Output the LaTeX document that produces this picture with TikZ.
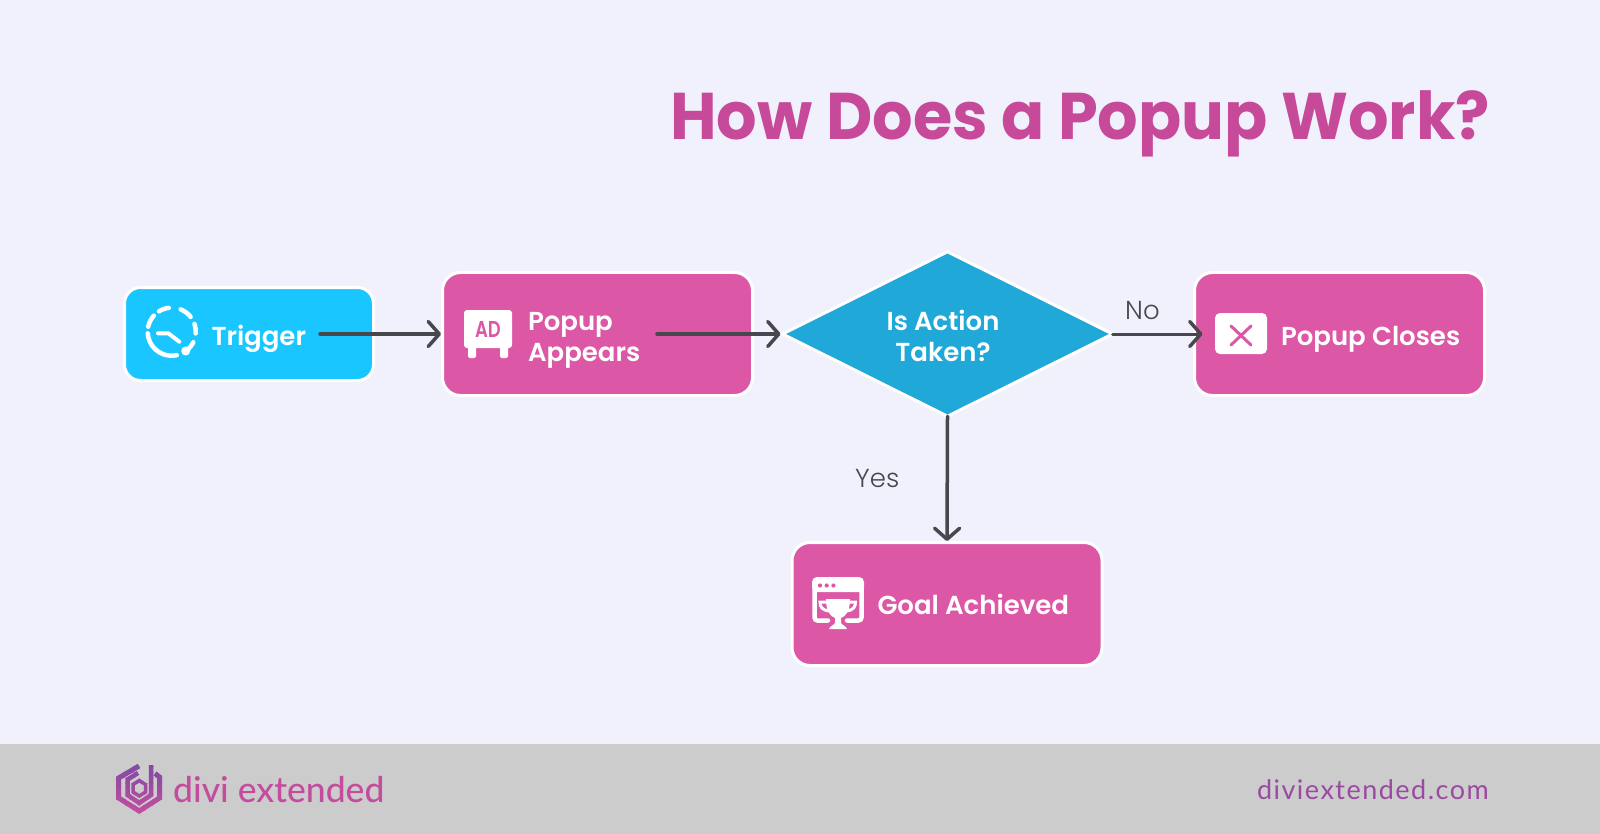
\documentclass[tikz,border=0pt]{standalone}
\usepackage{fontspec}
\setmainfont{Poppins}
\newfontfamily\semi{Poppins SemiBold}
\newfontfamily\lightf{Poppins Light}
\newfontfamily\titlef[FakeStretch=0.965]{Poppins Bold}
\newfontfamily\logof{Lato Medium}
\newfontfamily\urlf[LetterSpace=5.5]{Lato}
\usetikzlibrary{arrows.meta,shapes.geometric}
\definecolor{bgc}{HTML}{F1F1FD}
\definecolor{footc}{HTML}{CCCCCC}
\definecolor{pinkc}{HTML}{DC57A5}
\definecolor{trigc}{HTML}{1AC6FF}
\definecolor{diac}{HTML}{20A8D8}
\definecolor{titlec}{HTML}{C74A9A}
\definecolor{linec}{HTML}{47474D}
\definecolor{logoa}{HTML}{7F4BA6}
\definecolor{logob}{HTML}{C44C9E}
\definecolor{urlc}{HTML}{9A4AA2}
\tikzset{
  x=1pt,y=-1pt,
  flowbox/.style={draw=white,line width=3pt,rounded corners=16pt,inner sep=0pt,outer sep=0pt},
  pinkbox/.style={flowbox,fill=pinkc,rounded corners=18pt},
  lbl/.style={text=white,inner sep=0pt,outer sep=0pt,font=\semi\fontsize{26}{30}\selectfont},
  cond/.style={text=linec,inner sep=0pt,font=\lightf\fontsize{26}{28}\selectfont},
  conn/.style={draw=linec,line width=3.5pt,line cap=round,-{Straight Barb[length=11pt,width=25pt,line width=3.5pt,round]}},
  iconline/.style={draw=white,line width=4.5pt,line cap=round},
}
\newcommand{\arcpx}[2]{\draw[iconline] plot[domain=#1:#2,samples=16] ({171.7+24*cos(\x)},{331.7-24*sin(\x)});}
\begin{document}
\begin{tikzpicture}
\useasboundingbox (0,0) rectangle (1600,834);
\fill[bgc] (0,0) rectangle (1600,834);
\fill[footc] (0,744) rectangle (1600,834);
% title
\node[anchor=base east,inner sep=0pt,text=titlec,font=\titlef\fontsize{66}{70}\selectfont] (title) at (1490,140) {How Does a Popup Work?};
% boxes
\node[flowbox,fill=trigc,minimum width=249pt,minimum height=93pt] (trigger) at (249,334) {};
\node[pinkbox,minimum width=310pt,minimum height=123pt] (popup) at (597.5,334) {};
\node[diamond,draw=white,line width=3pt,fill=diac,inner sep=0pt,outer sep=0pt,minimum width=330pt,minimum height=164.5pt,aspect=2] (action) at (947.5,334) {};
\node[pinkbox,minimum width=290pt,minimum height=123pt] (closes) at (1339.5,334) {};
\node[pinkbox,minimum width=310pt,minimum height=123pt] (goal) at (947,604) {};
% connectors
\coordinate (trigout) at (320,334);
\coordinate (popout) at (657,334);
\draw[conn,shorten >=1.5pt] (trigout) -- (popup.west);
\draw[conn,shorten >=2pt] (popout) -- (action.west);
\draw[conn,line width=3pt,shorten <=0pt,shorten >=-8pt] (action.east) -- (closes.west);
\draw[conn,shorten <=0pt,shorten >=1.5pt] (action.south) -- (goal.north);
\node[cond,anchor=base west] (no) at (1125,319) {No};
\node[cond,anchor=base west] (yes) at (855,487) {Yes};
% labels
\node[lbl,anchor=base west] (ltrigger) at (211.5,345) {Trigger};
\node[lbl,anchor=base west] (lpop1) at (528,330.5) {Popup};
\node[lbl,anchor=base west] (lpop2) at (528,361) {Appears};
\node[lbl,anchor=base] (lact1) at (943,330) {Is Action};
\node[lbl,anchor=base] (lact2) at (943,361) {Taken?};
\node[lbl,anchor=base west] (lclose) at (1281,345) {Popup Closes};
\node[lbl,anchor=base west] (lgoal) at (877.5,614) {Goal Achieved};
% trigger icon
\arcpx{97}{122}
\arcpx{38}{68}
\arcpx{-4}{19}
\arcpx{-48}{-26}
\arcpx{-176}{-78}
\arcpx{138}{168}
\fill[white] (185.7,351) circle[radius=4.5];
\draw[iconline,line join=round,line width=4pt] (158,333.3) -- (168.3,333.3) -- (179.3,341.7);
% AD icon
\fill[white,rounded corners=3pt] (464,310) rectangle (512,348);
\fill[white,rounded corners=2pt] (468,344) rectangle (476,358);
\fill[white,rounded corners=2pt] (500,344) rectangle (508,358);
\node[inner sep=0pt,text=pinkc,font=\semi\fontsize{23}{23}\selectfont,xscale=0.78] (adtext) at (488,329.5) {AD};
% X icon
\fill[white,rounded corners=5pt] (1215,313) rectangle (1267,354);
\draw[draw=pinkc,line width=3pt,line cap=round] (1231,326) -- (1251,345) (1251,326) -- (1231,345);
% goal icon
\fill[white,rounded corners=5pt] (812,577) rectangle (864,592);
\draw[iconline,rounded corners=3pt] (828,620.5) -- (814.5,620.5) -- (814.5,585);
\draw[iconline,rounded corners=3pt] (847,620.5) -- (861.5,620.5) -- (861.5,585);
\fill[pinkc] (820,585.5) circle[radius=2.1] (826.7,585.5) circle[radius=2.1] (833.4,585.5) circle[radius=2.1];
\fill[white] (826,599) -- (850,599) .. controls (850,611) and (846,616) .. (841,618) -- (841,623) .. controls (842,625) and (846,626) .. (847,629) -- (829,629) .. controls (830,626) and (834,625) .. (835,623) -- (835,618) .. controls (830,616) and (826,611) .. (826,599) -- cycle;
\draw[draw=white,line width=3pt,line cap=round] (828,602) -- (820,602) .. controls (820,607) and (822,610) .. (829,611);
\draw[draw=white,line width=3pt,line cap=round] (848,602) -- (855.5,602) .. controls (855.5,607) and (853.5,610) .. (846.5,611);
% logo
\foreach \i in {0,...,9}{
  \pgfmathsetmacro{\mixv}{\i*11}
  \begin{scope}
    \clip (110,{761+\i*5.5}) rectangle (170,{761+\i*5.5+5.7});
    \draw[draw=logob!\mixv!logoa,line width=5pt,line join=miter]
      (139,766) -- (118.7,778) -- (118.7,798) -- (139.3,811) -- (159.5,798) -- (159.5,777) -- (155,773.5);
    \draw[draw=logob!\mixv!logoa,line width=4.5pt,line join=miter]
      (138,773) -- (127.5,779.5) -- (127.5,795) -- (139.3,803) -- (151,795) -- (151,765);
    \draw[draw=logob!\mixv!logoa,line width=3.5pt,line join=miter]
      (139.3,780.5) -- (145.5,784.5) -- (145.5,792) -- (139.3,796) -- (133,792) -- (133,784.5) -- cycle;
  \end{scope}
}
\node[anchor=base west,inner sep=0pt,text=logob,font=\logof\fontsize{35.5}{40}\selectfont] (brand) at (173,802) {divi extended};
\node[anchor=base east,inner sep=0pt,text=urlc,font=\urlf\fontsize{27}{32}\selectfont] (url) at (1489,799) {diviextended.com};
\end{tikzpicture}
\end{document}
